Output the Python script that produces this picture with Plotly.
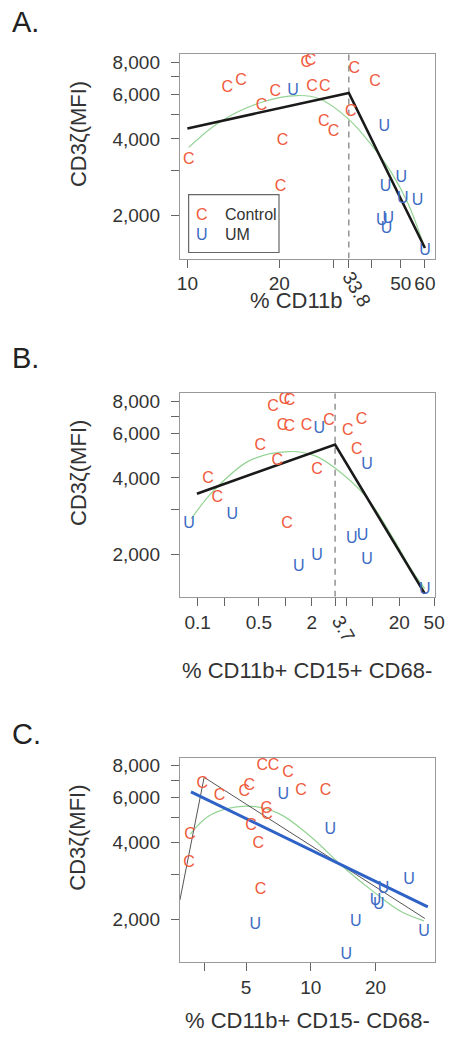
import math
import plotly.graph_objects as go

# ---------------- data ----------------
# Panel A: % CD11b
a_ctrl_x = [10.1, 13.5, 15.0, 17.5, 19.4, 20.5, 20.2, 24.5, 25.3, 25.6, 28.2, 28.0, 30.1, 35.2, 34.3, 41.2]
a_ctrl_y = [3310, 6320, 6720, 5370, 6100, 3940, 2600, 7960, 8050, 6380, 6380, 4650, 4270, 7540, 5120, 6680]
a_um_x = [22.2, 44.2, 44.6, 50.2, 50.8, 56.8, 43.3, 45.5, 44.9, 60.0]
a_um_y = [6140, 4440, 2600, 2820, 2330, 2285, 1906, 1934, 1778, 1452]
a_seg_x = [10.0, 33.8, 60.0]
a_seg_y = [4400, 6060, 1496]
a_fit_x = [10.1, 12.7, 17.5, 22.9, 27.2, 33.8, 40.3, 46.6, 52.7, 59.6]
a_fit_y = [3706, 4645, 5572, 5920, 5740, 4775, 3760, 2953, 2250, 1524]
a_break = 33.8

# Panel B: % CD11b+ CD15+ CD68-
b_ctrl_x = [0.1315, 0.167, 0.518, 0.808, 0.723, 0.983, 1.117, 0.933, 1.107, 1.742, 3.16, 2.31, 1.044, 5.18, 7.41, 6.53]
b_ctrl_y = [3968, 3340, 5360, 4680, 7580, 8110, 8000, 6426, 6325, 6426, 6722, 4306, 2624, 6140, 6765, 5155]
b_um_x = [0.0794, 0.249, 2.45, 8.58, 1.43, 2.31, 5.74, 7.6, 8.58, 39.1]
b_um_y = [2624, 2846, 6236, 4477, 1784, 1964, 2304, 2360, 1894, 1453]
b_seg_x = [0.098, 3.7, 39.1]
b_seg_y = [3464, 5411, 1401]
b_fit_x = [0.0843, 0.153, 0.391, 1.09, 2.15, 3.66, 8.43, 16.7, 27.8, 39.1]
b_fit_y = [2762, 3570, 4680, 5080, 4896, 4383, 3357, 2340, 1730, 1466]
b_break = 3.7

# Panel C: % CD11b+ CD15- CD68-
c_ctrl_x = [3.13, 3.76, 2.74, 2.71, 4.91, 5.17, 5.27, 5.70, 5.84, 5.95, 6.71, 7.84, 6.20, 6.26, 9.01, 11.7]
c_ctrl_y = [6786, 6090, 4282, 3334, 6328, 6670, 4643, 3948, 2606, 7980, 7980, 7516, 5404, 5130, 6384, 6384]
c_um_x = [7.45, 12.3, 5.51, 14.6, 16.2, 20.0, 20.7, 21.8, 28.6, 33.6]
c_um_y = [6145, 4478, 1900, 1449, 1957, 2366, 2276, 2622, 2852, 1788]
c_seg_x = [2.46, 3.19, 33.9]
c_seg_y = [2380, 7212, 2018]
c_lin_x = [2.77, 35.0]
c_lin_y = [6328, 2241]
c_fit_x = [2.75, 3.41, 5.0, 7.07, 10.0, 14.1, 20.0, 26.4, 33.6]
c_fit_y = [4322, 5130, 5563, 5208, 4218, 3216, 2530, 2142, 1975]
c_break = 3.19

y_tickvals = [2000, 3000, 4000, 5000, 6000, 7000, 8000]
y_ticktext = ["2,000", "", "4,000", "", "6,000", "", "8,000"]
y_lim = [1360, 8620]

a_tickvals = [10, 20, 30, 33.8, 40, 50, 60]
a_ticktext = ["10", "20", "", "", "", "50", "60"]
a_lim = [9.45, 64.5]
b_tickvals = [0.1, 0.2, 0.5, 1, 2, 3.7, 5, 10, 20, 50]
b_ticktext = ["0.1", "", "0.5", "", "2", "", "", "", "20", "50"]
b_lim = [0.0626, 50.5]
c_tickvals = [3.19, 5, 10, 20]
c_ticktext = ["", "5", "10", "20"]
c_lim = [2.46, 37.6]

# ---------------- style ----------------
FONT = "Liberation Sans, Arial, sans-serif"
RED = "#EF5A3C"
BLUE = "#3C6BC4"
GREEN = "#93D393"
W, H = 462, 1040

def py(v):
    return 1 - v / H

def px(v):
    return v / W

panels = [
    dict(ctrl=(a_ctrl_x, a_ctrl_y), um=(a_um_x, a_um_y), seg=(a_seg_x, a_seg_y), fit=(a_fit_x, a_fit_y),
         brk=a_break, tv=a_tickvals, tt=a_ticktext, lim=a_lim, top=52, bot=257,
         title="% CD11b", title_xy=(302, 299), label="A.", label_y=20, brk_label="33.8", brk_lab_xy=(364, 288)),
    dict(ctrl=(b_ctrl_x, b_ctrl_y), um=(b_um_x, b_um_y), seg=(b_seg_x, b_seg_y), fit=(b_fit_x, b_fit_y),
         brk=b_break, tv=b_tickvals, tt=b_ticktext, lim=b_lim, top=392, bot=596,
         title="% CD11b+ CD15+ CD68-", title_xy=(313, 670), label="B.", label_y=357, brk_label="3.7",
         brk_lab_xy=(350, 628)),
    dict(ctrl=(c_ctrl_x, c_ctrl_y), um=(c_um_x, c_um_y), seg=(c_seg_x, c_seg_y), fit=(c_fit_x, c_fit_y),
         brk=None, tv=c_tickvals, tt=c_ticktext, lim=c_lim, top=757, bot=962,
         title="% CD11b+ CD15- CD68-", title_xy=(313, 1020), label="C.", label_y=733, brk_label=None),
]

fig = go.Figure()
annotations = []
shapes = []
LEFT, RIGHT = 182, 444

for i, p in enumerate(panels):
    n = "" if i == 0 else str(i + 1)
    xa, ya = "x" + n, "y" + n
    # fitted curve (green)
    fig.add_trace(go.Scatter(x=p["fit"][0], y=p["fit"][1], mode="lines", xaxis=xa, yaxis=ya,
                             line=dict(color=GREEN, width=1.2, shape="spline"), showlegend=False, hoverinfo="skip"))
    # break line
    if p["brk"] is not None:
        fig.add_trace(go.Scatter(x=[p["brk"], p["brk"]], y=y_lim, mode="lines", xaxis=xa, yaxis=ya,
                                 line=dict(color="#777777", width=1.2, dash="6px,5px"), showlegend=False,
                                 hoverinfo="skip", cliponaxis=False))
    # segmented regression
    if i < 2:
        fig.add_trace(go.Scatter(x=p["seg"][0], y=p["seg"][1], mode="lines", xaxis=xa, yaxis=ya,
                                 line=dict(color="#1a1a1a", width=2.6), showlegend=False, hoverinfo="skip"))
    else:
        fig.add_trace(go.Scatter(x=p["seg"][0], y=p["seg"][1], mode="lines", xaxis=xa, yaxis=ya,
                                 line=dict(color="#555555", width=1), showlegend=False, hoverinfo="skip"))
        fig.add_trace(go.Scatter(x=c_lin_x, y=c_lin_y, mode="lines", xaxis=xa, yaxis=ya,
                                 line=dict(color="#2F62C6", width=3), showlegend=False, hoverinfo="skip"))
    # points
    fig.add_trace(go.Scatter(x=p["ctrl"][0], y=p["ctrl"][1], mode="text", text=["C"] * len(p["ctrl"][0]),
                             textposition="middle center", textfont=dict(color=RED, size=16, family=FONT),
                             xaxis=xa, yaxis=ya, showlegend=False, cliponaxis=False))
    fig.add_trace(go.Scatter(x=p["um"][0], y=p["um"][1], mode="text", text=["U"] * len(p["um"][0]),
                             textposition="middle center", textfont=dict(color=BLUE, size=16, family=FONT),
                             xaxis=xa, yaxis=ya, showlegend=False, cliponaxis=False))

    dom_y = [py(p["bot"]), py(p["top"])]
    axis_common = dict(showgrid=False, zeroline=False, showline=True, linecolor="#999999", linewidth=1.2,
                       mirror=True, ticks="outside", ticklen=8, tickwidth=1, tickcolor="#666666",
                       tickfont=dict(family=FONT, size=19, color="#333333"))
    fig.layout["xaxis" + n] = dict(axis_common, type="log", domain=[px(LEFT), px(RIGHT)],
                                   range=[math.log10(p["lim"][0]), math.log10(p["lim"][1])],
                                   tickmode="array", tickvals=p["tv"], ticktext=p["tt"], anchor=ya,
                                   ticklabelstandoff=0)
    fig.layout["yaxis" + n] = dict(axis_common, type="log", domain=dom_y,
                                   range=[math.log10(y_lim[0]), math.log10(y_lim[1])],
                                   tickmode="array", tickvals=y_tickvals, ticktext=y_ticktext, anchor=xa,
                                   ticklabelstandoff=7)
    # titles
    annotations.append(dict(text="CD3ζ(MFI)", x=px(77), y=py((p["top"] + p["bot"]) / 2 - 22), xref="paper",
                            yref="paper", showarrow=False, textangle=-90, xanchor="center", yanchor="middle",
                            font=dict(family=FONT, size=22, color="#333333")))
    annotations.append(dict(text=p["title"], x=px(p["title_xy"][0]), y=py(p["title_xy"][1]), xref="paper",
                            yref="paper", showarrow=False, xanchor="center", yanchor="middle",
                            font=dict(family=FONT, size=22, color="#333333")))
    annotations.append(dict(text=p["label"], x=px(7), y=py(p["label_y"]), xref="paper", yref="paper",
                            showarrow=False, xanchor="left", yanchor="middle",
                            font=dict(family=FONT, size=29, color="#222222")))
    if p["brk_label"]:
        annotations.append(dict(text=p["brk_label"], x=px(p["brk_lab_xy"][0]), y=py(p["brk_lab_xy"][1]),
                                xref="paper", yref="paper", showarrow=False, textangle=60,
                                xanchor="center", yanchor="middle",
                                font=dict(family=FONT, size=19, color="#333333")))

# legend for panel A (drawn manually)
shapes.append(dict(type="rect", xref="paper", yref="paper", x0=px(191), x1=px(284), y0=py(251), y1=py(193),
                   line=dict(color="#666666", width=1.2), fillcolor="white", layer="below"))
for lab, sym, col, yy in [("Control", "C", RED, 213), ("UM", "U", BLUE, 233)]:
    annotations.append(dict(text=sym, x=px(205), y=py(yy), xref="paper", yref="paper", showarrow=False,
                            xanchor="center", yanchor="middle", font=dict(family=FONT, size=16, color=col)))
    annotations.append(dict(text=lab, x=px(226), y=py(yy), xref="paper", yref="paper", showarrow=False,
                            xanchor="left", yanchor="middle", font=dict(family=FONT, size=16, color="#333333")))

fig.update_layout(width=W, height=H, margin=dict(l=0, r=0, t=0, b=0), paper_bgcolor="white",
                  plot_bgcolor="white", showlegend=False, annotations=annotations, shapes=shapes,
                  font=dict(family=FONT))
fig.write_html(
    "out.html",
    config={"displayModeBar": False, "responsive": False},
    post_script=("document.documentElement.style.margin='0';document.body.style.margin='0';"
                 "document.body.style.padding='0';document.body.style.overflow='hidden';"
                 "document.documentElement.style.overflow='hidden';"),
)
